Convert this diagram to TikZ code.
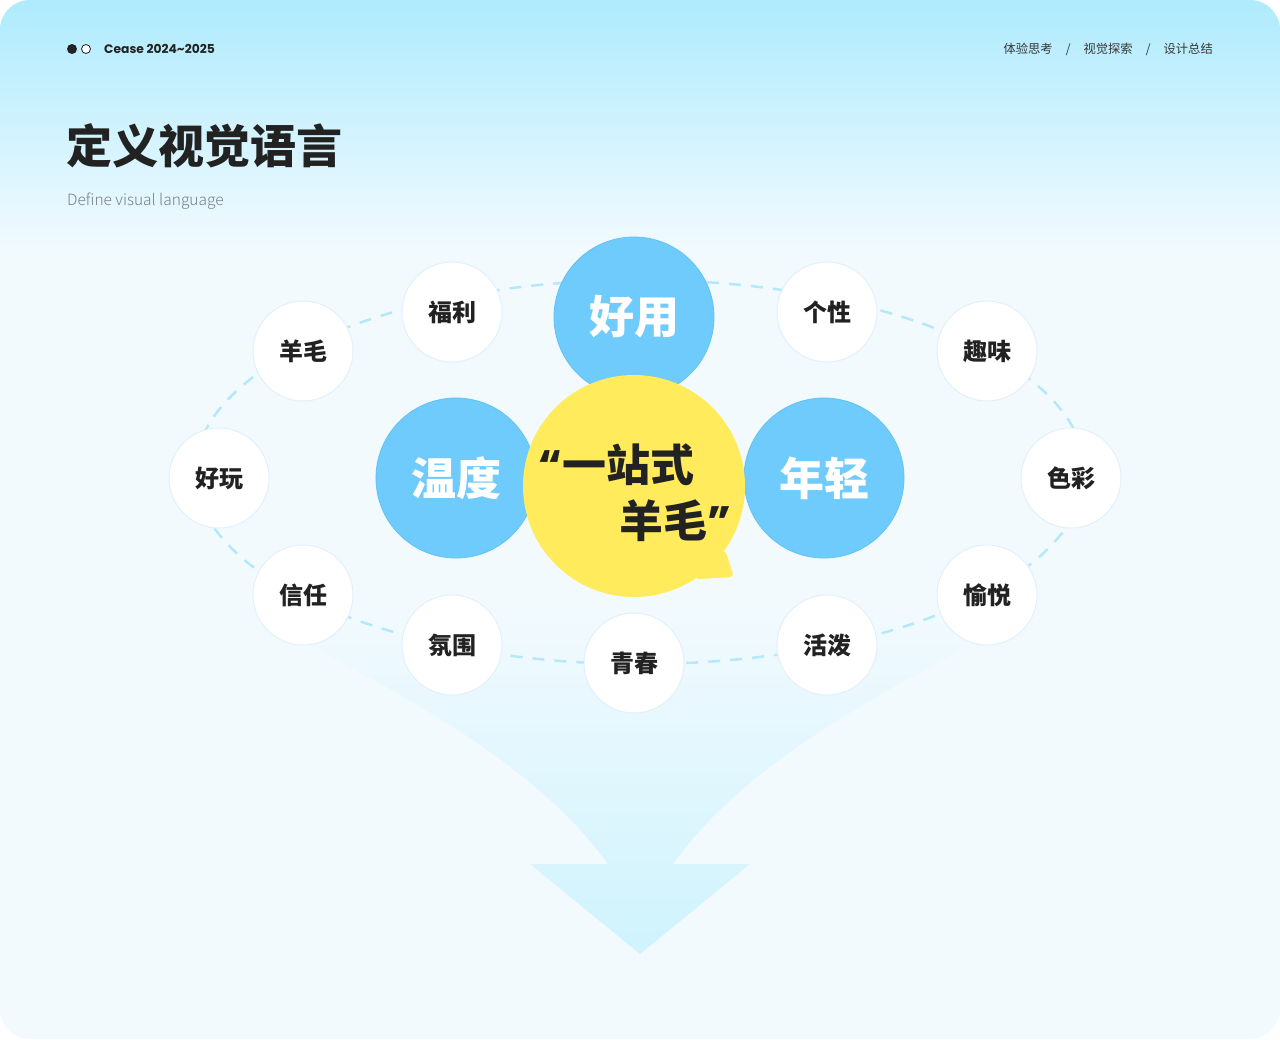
\documentclass[tikz,border=0pt]{standalone}
\usepackage{fontspec}
\setmainfont{Noto Sans CJK SC}
\newfontfamily\heavyfont{Noto Sans CJK SC Black}
\newfontfamily\lightfont{Noto Sans CJK SC Light}
\newfontfamily\latinfont{Poppins}
\usetikzlibrary{positioning,backgrounds,calc}

\definecolor{bgtop}{HTML}{AEEBFD}
\definecolor{bgmain}{HTML}{F2FAFE}
\definecolor{funnel}{HTML}{CFF3FD}
\definecolor{dashblue}{HTML}{B3E9F8}
\definecolor{tagline}{HTML}{E2F0FA}
\definecolor{keyblue}{HTML}{6ECBFC}
\definecolor{keyline}{HTML}{62C2F4}
\definecolor{bubbleyellow}{HTML}{FFEB5C}
\definecolor{ink}{HTML}{222222}
\definecolor{subgray}{HTML}{7A7F86}

\begin{document}
\begin{tikzpicture}[
        x=1pt, y=-1pt,
        every node/.style={inner sep=0pt},
        tag/.style={circle, draw=tagline, line width=1pt, fill=white, minimum size=100pt, text=ink, font=\fontsize{24}{26}\selectfont\bfseries},
        key/.style={circle, draw=keyline, line width=0.8pt, fill=keyblue, minimum size=160pt, text=white, font=\heavyfont\fontsize{45}{48}\selectfont},
        bubble/.style={circle, fill=bubbleyellow, minimum size=222pt},
        slogan/.style={anchor=west, text=ink, font=\heavyfont\fontsize{44}{46}\selectfont},
        ring/.style={dashblue, line width=2.5pt, dash pattern=on 12pt off 10pt}
    ]
        \useasboundingbox (0,0) rectangle (1280,1039);
        % background
        \fill[white] (0,0) rectangle (1280,1039);
        \begin{scope}
            \clip[rounded corners=30pt] (0,0) rectangle (1280,1039);
            \fill[bgmain] (0,0) rectangle (1280,1039);
            \shade[top color=bgtop, bottom color=bgmain] (0,0) rectangle (1280,250);
        \end{scope}
        % funnel arrow
        \shade[top color=bgmain, bottom color=funnel]
            (240,610) .. controls (420,700) and (540,770) .. (608,864)
            -- (530,864) -- (640,954) -- (750,864) -- (673,864)
            .. controls (740,770) and (860,700) .. (1040,610) -- cycle;

        % header
        \fill[ink] (72,49) circle (5);
        \draw[ink, fill=white, line width=0.8pt] (86,49) circle (4.5);
        \node[anchor=west, text=ink, font=\latinfont\bfseries\fontsize{12.3}{14}\selectfont] (brand) at (104,49) {Cease 2024\textasciitilde2025};
        \node[anchor=east, text=ink!90, font=\fontsize{12.3}{14}\selectfont] (nav) at (1213,49) {体验思考\hspace{13pt}/\hspace{13pt}视觉探索\hspace{13pt}/\hspace{13pt}设计总结};
        \node[anchor=west, text=ink, font=\heavyfont\fontsize{46}{48}\selectfont] (title) at (66,146) {定义视觉语言};
        \node[anchor=west, text=subgray, font=\lightfont\fontsize{15.5}{17}\selectfont] (subtitle) at (67,201) {Define visual language};

        % dashed ring
        \draw[ring] (640,472) ellipse [x radius=445, y radius=192];

        % keyword circles
        \node[tag] (fuli) at (452,312) {福利};
        \node[tag] (yangmao) at (303,351) {羊毛};
        \node[tag] (haowan) at (219,478) {好玩};
        \node[tag] (xinren) at (303,595) {信任};
        \node[tag] (fenwei) at (452,645) {氛围};
        \node[tag] (qingchun) at (634,663) {青春};
        \node[tag] (huopo) at (827,645) {活泼};
        \node[tag] (yuyue) at (987,595) {愉悦};
        \node[tag] (secai) at (1071,478) {色彩};
        \node[tag] (quwei) at (987,351) {趣味};
        \node[tag] (gexing) at (827,312) {个性};

        % core values
        \node[key] (haoyong) at (634,317) {好用};
        \node[key] (wendu) at (456,478) {温度};
        \node[key] (nianqing) at (824,478) {年轻};

        % speech bubble
        \node[bubble] (bubble) at (634,486) {};
        \fill[bubbleyellow, rounded corners=4pt] (bubble.-35) -- (734,577) -- (bubble.-57) -- cycle;
        \node[slogan] (line1) at (538,465) {{\latinfont\bfseries “}一站式};
        \node[slogan] (line2) at (619,521) {羊毛{\latinfont\bfseries ”}};
    \end{tikzpicture}
\end{document}
